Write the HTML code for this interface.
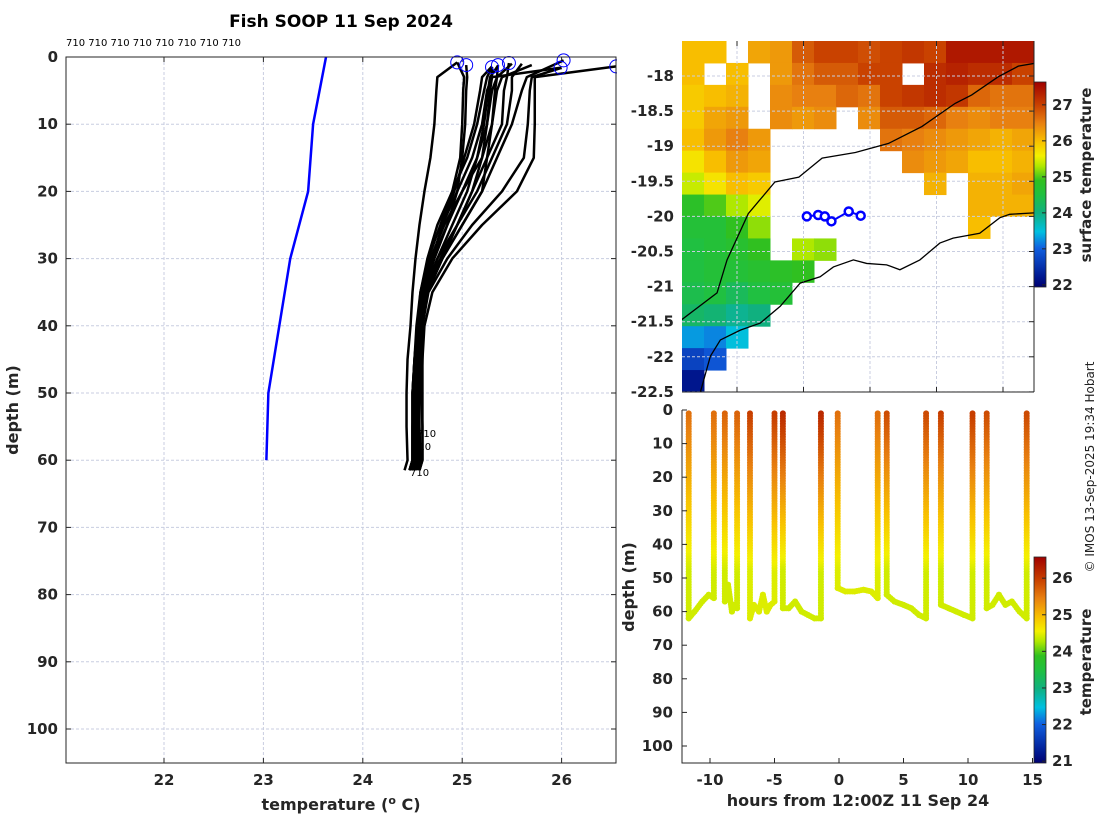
<!DOCTYPE html>
<html><head><meta charset="utf-8">
<style>
html,body{margin:0;padding:0;background:#fff;}
svg{display:block;font-family:"DejaVu Sans","Liberation Sans",sans-serif;}
.tk{font-weight:bold;font-size:15px;fill:#262626;}
.lb{font-weight:bold;font-size:16px;fill:#262626;}
</style></head>
<body>
<svg id="fig" width="1100" height="820" viewBox="0 0 1100 820" xmlns="http://www.w3.org/2000/svg">
<defs>
<clipPath id="clipL"><rect x="66" y="40" width="551" height="723"/></clipPath>
<clipPath id="clipM"><rect x="682" y="41" width="352" height="351"/></clipPath>
<clipPath id="clipB"><rect x="682" y="400" width="352" height="363"/></clipPath>
<clipPath id="clipLon"><rect x="682" y="392" width="360" height="18"/></clipPath>
<linearGradient id="cbar1" x1="0" y1="1" x2="0" y2="0"></linearGradient>
<linearGradient id="cbar2" x1="0" y1="1" x2="0" y2="0"></linearGradient>
</defs>
<text x="341" y="27" text-anchor="middle" style="font-weight:bold;font-size:17px;fill:#000">Fish SOOP 11 Sep 2024</text>
<text x="66" y="46" style="font-size:10px;fill:#000">710 710 710 710 710 710 710 710</text>
<g id="left"></g>
<g id="map"></g>
<g id="bot"></g>
<text transform="translate(1094,467) rotate(-90)" text-anchor="middle" style="font-size:12px;fill:#222">© IMOS 13-Sep-2025 19:34 Hobart</text>
</svg>
<script>
// ---------- DATA ----------
const profileDepths = [3,5,10,15,20,25,30,35,40,45,50,55,60];
const profileTemps = [
 [24.75,24.74,24.72,24.68,24.62,24.57,24.53,24.5,24.48,24.45,24.44,24.44,24.45],
 [25.73,25.73,25.73,25.72,25.55,25.2,24.9,24.7,24.62,24.6,24.6,24.6,24.6],
 [25.7,25.68,25.66,25.62,25.4,25.1,24.85,24.66,24.6,24.58,24.57,24.57,24.58],
 [25.45,25.42,25.4,25.25,25.1,24.95,24.8,24.65,24.58,24.55,24.55,24.55,24.56],
 [25.35,25.33,25.3,25.25,25.2,25.0,24.8,24.62,24.56,24.53,24.52,24.52,24.52],
 [25.3,25.28,25.25,25.15,25.0,24.85,24.7,24.6,24.55,24.52,24.5,24.5,24.5],
 [25.05,25.04,25.03,25.0,24.95,24.85,24.72,24.62,24.56,24.53,24.52,24.5,24.5],
 [25.02,25.01,25.0,24.98,24.9,24.78,24.66,24.58,24.54,24.52,24.5,24.5,24.5],
 [25.3,25.25,25.2,25.1,24.95,24.8,24.7,24.62,24.58,24.56,24.55,24.55,24.55],
 [25.5,25.5,25.45,25.3,25.15,24.95,24.75,24.63,24.57,24.55,24.54,24.54,24.54],
 [25.25,25.22,25.15,25.05,24.9,24.75,24.65,24.58,24.55,24.53,24.52,24.52,24.52],
 [25.35,25.3,25.25,25.2,25.1,24.95,24.78,24.6,24.55,24.52,24.5,24.5,24.5],
 [25.65,25.6,25.5,25.35,25.2,25.0,24.8,24.65,24.6,24.6,24.59,24.6,24.6],
 [25.28,25.26,25.22,25.15,25.05,24.9,24.75,24.62,24.56,24.54,24.53,24.52,24.53],
 [25.4,25.35,25.3,25.2,25.0,24.82,24.68,24.6,24.56,24.54,24.53,24.52,24.52],
 [25.2,25.18,25.12,25.02,24.92,24.8,24.7,24.63,24.58,24.55,24.54,24.53,24.54]
];
const startTemps = [24.95,26.55,26.0,25.47,25.36,25.3,25.04,24.95,25.99,25.6,25.3,25.5,26.02,25.36,25.7,25.3];
const startDepths = [0.8,1.4,1.6,0.9,1.2,1.5,1.2,0.8,1.6,1.0,1.5,1.0,0.5,1.3,1.2,1.4];
const circleTemps = [24.95,25.04,25.3,25.36,25.47,26.02,25.99,26.55];
const circleDepths = [0.8,1.2,1.5,1.2,0.9,0.5,1.6,1.4];
const climDepths = [0,10,20,30,50,60];
const climTemps = [23.63,23.5,23.45,23.27,23.05,23.03];
const tempTicks = [22,23,24,25,26];
const depthTicks = [0,10,20,30,40,50,60,70,80,90,100];

// SST grid (lat rows from north, lon cols from west), null = no data
const sstGrid = [
 [26,26,null,26.2,26.3,26.8,27,27,26.9,27,27.1,27,27.4,27.4,27.4,27.4],
 [26,null,26,null,26.3,26.6,26.8,26.8,27,27,null,27.2,27.3,27.2,27.2,27],
 [25.9,26,26.1,null,26.4,26.5,26.5,26.7,26.6,27,27.1,27.2,27.1,26.7,26.6,26.6],
 [25.9,26.2,26.3,null,26.4,26.3,26.4,null,26.4,26.8,26.8,26.7,26.5,26.4,26.5,26.5],
 [26,26.3,26.5,26.3,null,null,null,null,null,26.6,26.5,26.4,26.3,26.2,26.1,26.2],
 [25.7,26,26.3,26.2,null,null,null,null,null,null,26.4,26.3,26.2,26,26,26.1],
 [25.4,25.7,26,25.9,null,null,null,null,null,null,null,26.1,null,26.1,26.1,26.2],
 [24.8,25,25.3,25.5,null,null,null,null,null,null,null,null,null,26.1,26.1,26.1],
 [24.6,24.6,24.9,25.2,null,null,null,null,null,null,null,null,null,26,null,null],
 [24.5,24.6,24.7,24.9,null,25.3,25.2,null,null,null,null,null,null,null,null,null],
 [24.5,24.6,24.6,24.7,24.8,24.9,null,null,null,null,null,null,null,null,null,null],
 [24.4,24.5,24.3,24.5,24.6,null,null,null,null,null,null,null,null,null,null,null],
 [24.2,24.1,23.9,24.0,null,null,null,null,null,null,null,null,null,null,null,null],
 [23.3,23.2,23.5,null,null,null,null,null,null,null,null,null,null,null,null,null],
 [22.7,22.9,null,null,null,null,null,null,null,null,null,null,null,null,null,null],
 [22.2,null,null,null,null,null,null,null,null,null,null,null,null,null,null,null]
];
const latTicks = [-18,-18.5,-19,-19.5,-20,-20.5,-21,-21.5,-22,-22.5];
const lonTicks = [115,116,117,118,119];
const trackLons = [116.05,116.22,116.32,116.42,116.68,116.86];
const trackLats = [-20.0,-19.98,-20.0,-20.07,-19.93,-19.99];
const isoLons = [114.17,114.7,114.85,115.17,115.57,115.93,116.28,116.78,117.28,117.78,118.28,118.53,118.93,119.23,119.47];
const isoLats = [-21.47,-21.09,-20.62,-19.96,-19.51,-19.44,-19.17,-19.09,-18.96,-18.72,-18.39,-18.27,-18.01,-17.86,-17.82];
const coastLons = [114.45,114.6,114.75,115.05,115.35,115.65,115.95,116.25,116.45,116.75,116.95,117.25,117.45,117.75,118.05,118.25,118.65,118.95,119.1,119.47];
const coastLats = [-22.5,-21.99,-21.76,-21.62,-21.52,-21.28,-20.95,-20.86,-20.72,-20.62,-20.67,-20.69,-20.76,-20.62,-20.38,-20.31,-20.24,-20.02,-19.97,-19.95];

// depth-time casts
const castHours = [
 [-11.65,-11.2,-10.6,-10.1,-9.7],
 [-8.85,-8.6,-8.3,-8.1,-7.9],
 [-6.9,-6.6,-6.2,-5.9,-5.6,-5.3,-5.0],
 [-4.35,-3.9,-3.4,-2.9,-2.4,-1.9,-1.4],
 [-0.1,0.5,1.2,1.9,2.5,3.0],
 [3.7,4.3,5.0,5.6,6.2,6.75],
 [7.9,8.5,9.1,9.7,10.35],
 [11.45,11.9,12.4,12.9,13.4,14.0,14.55]
];
const castDepths = [
 [62,60,57,55,56],
 [57,52,60,58,59],
 [62,58,60,55,60,58,57],
 [59,59,57,60,61,62,62],
 [53,54,54,53.5,54,56],
 [55,57,58,59,61,62],
 [58,59,60,61,62],
 [59,58,55,58,57,60,62]
];
const castSurfTemps = [25.6,25.7,26.0,26.2,25.6,25.9,26.0,25.9];
const castBottomTemps = [24.4,24.4,24.45,24.4,24.45,24.4,24.4,24.4];
const hourTicks = [-10,-5,0,5,10,15];
const cb1Ticks = [22,23,24,25,26,27];
const cb2Ticks = [21,22,23,24,25,26];

// ---------- HELPERS ----------
const NS = 'http://www.w3.org/2000/svg';
function mk(parent, tag, attrs, text){
  const e = document.createElementNS(NS, tag);
  for (const k in attrs) e.setAttribute(k, attrs[k]);
  if (text !== undefined) e.textContent = text;
  parent.appendChild(e);
  return e;
}
const stops = [[0,'#000070'],[0.05,'#001890'],[0.19,'#1060e0'],[0.27,'#00c0e0'],[0.36,'#10b080'],[0.45,'#20c040'],[0.52,'#30c020'],[0.59,'#b0e800'],[0.64,'#f4f000'],[0.71,'#f8c000'],[0.8,'#e88010'],[0.89,'#c84000'],[1,'#a00000']];
function hx(c){return [parseInt(c.substr(1,2),16),parseInt(c.substr(3,2),16),parseInt(c.substr(5,2),16)];}
function cmap(f){
  f = Math.max(0, Math.min(1, f));
  for (let i=1;i<stops.length;i++){
    if (f <= stops[i][0]){
      const a=stops[i-1], b=stops[i], t=(f-a[0])/(b[0]-a[0]);
      const ca=hx(a[1]), cb=hx(b[1]);
      return 'rgb('+ca.map((v,j)=>Math.round(v+(cb[j]-v)*t)).join(',')+')';
    }
  }
  return stops[stops.length-1][1];
}
['cbar1','cbar2'].forEach(id=>{
  const g=document.getElementById(id);
  stops.forEach(s=>mk(g,'stop',{offset:s[0],'stop-color':s[1]}));
});

// ---------- LEFT PROFILE PLOT ----------
const L = document.getElementById('left');
const lx = t => 164 + (t-22)*99.4;
const ly = d => 57 + d*6.72;
mk(L,'rect',{x:66,y:57,width:550,height:706,fill:'#fff'});
tempTicks.forEach(t=>{
  const g = mk(L,'line',{x1:lx(t),x2:lx(t),y1:57,y2:763,stroke:'#c8cde0','stroke-dasharray':'3,2','stroke-width':1});
  
  
  mk(L,'line',{x1:lx(t),x2:lx(t),y1:57,y2:62,stroke:'#262626'});
  mk(L,'line',{x1:lx(t),x2:lx(t),y1:763,y2:758,stroke:'#262626'});
  const tl = mk(L,'text',{x:lx(t),y:785,'text-anchor':'middle',class:'tk'},String(t));
  
  
});
depthTicks.forEach(d=>{
  mk(L,'line',{x1:66,x2:616,y1:ly(d),y2:ly(d),stroke:'#c8cde0','stroke-dasharray':'3,2'});
  mk(L,'line',{x1:66,x2:71,y1:ly(d),y2:ly(d),stroke:'#262626'});
  mk(L,'line',{x1:616,x2:611,y1:ly(d),y2:ly(d),stroke:'#262626'});
  const tl = mk(L,'text',{x:58,y:ly(d)+5,'text-anchor':'end',class:'tk'},String(d));
  
  
});
const clim = mk(L,'polyline',{points:climDepths.map((d,i)=>lx(climTemps[i])+','+ly(d)).join(' '),fill:'none',stroke:'#0000ff','stroke-width':2.5});


const PG = mk(L,'g',{'clip-path':'url(#clipL)'});
profileTemps.forEach((arr,i)=>{
  const pts = [lx(startTemps[i])+','+ly(startDepths[i])];
  arr.forEach((t,j)=>pts.push(lx(t)+','+ly(profileDepths[j])));
  pts.push(lx(arr[arr.length-1]-0.03)+','+ly(61.5));
  const p = mk(PG,'polyline',{points:pts.join(' '),fill:'none',stroke:'#000','stroke-width':2.5,'stroke-linejoin':'round'});
  
  
});
circleTemps.forEach((t,i)=>{
  const c = mk(PG,'circle',{cx:lx(t),cy:ly(circleDepths[i]),r:6.5,fill:'none',stroke:'#0000ff','stroke-width':1});
  
  
});
[[417,437,'710'],[412,450,'710'],[410,476,'710']].forEach(a=>mk(L,'text',{x:a[0],y:a[1],style:'font-size:10px;fill:#000'},a[2]));
mk(L,'path',{d:'M66,57 H616 V763 H66 Z',fill:'none',stroke:'#262626','stroke-width':1});
const xl = mk(L,'text',{x:341,y:810,'text-anchor':'middle',class:'lb'});


xl.innerHTML = 'temperature (<tspan dy="-6" style="font-size:11px">o</tspan><tspan dy="6"> C)</tspan>';
const yl = mk(L,'text',{transform:'translate(18,410) rotate(-90)','text-anchor':'middle',class:'lb'},'depth (m)');



// ---------- MAP ----------
const M = document.getElementById('map');
const mxp = lon => 737 + (lon-115)*66.5;
const myp = lat => 76 + (-18-lat)*70.2;
const MG = mk(M,'g',{'clip-path':'url(#clipM)'});
const cw = 352/16, ch = 351/16;
sstGrid.forEach((row,r)=>row.forEach((v,c)=>{
  if (v===null) return;
  const cell = mk(MG,'rect',{x:682+c*cw,y:41+r*ch,width:cw+0.5,height:ch+0.5,fill:cmap((v-21.94)/5.7)});
  
  
}));
lonTicks.forEach(l=>{
  mk(MG,'line',{x1:mxp(l),x2:mxp(l),y1:41,y2:392,stroke:'#c8cde0','stroke-dasharray':'3,2'});
  mk(M,'line',{x1:mxp(l),x2:mxp(l),y1:41,y2:46,stroke:'#262626'});
  mk(M,'line',{x1:mxp(l),x2:mxp(l),y1:392,y2:387,stroke:'#262626'});
});
const LonG = mk(M,'g',{'clip-path':'url(#clipLon)'});
lonTicks.forEach(l=>{
  const t = mk(LonG,'text',{x:mxp(l),y:421,'text-anchor':'middle',class:'tk'},String(l));
  
  
});
latTicks.forEach(v=>{
  mk(MG,'line',{x1:682,x2:1034,y1:myp(v),y2:myp(v),stroke:'#c8cde0','stroke-dasharray':'3,2'});
  mk(M,'line',{x1:1034,x2:1029,y1:myp(v),y2:myp(v),stroke:'#262626'});
  const t = mk(M,'text',{x:674,y:myp(v)+5,'text-anchor':'end',class:'tk'},String(v));
  
  
});
const iso = mk(MG,'polyline',{points:isoLons.map((l,i)=>mxp(l)+','+myp(isoLats[i])).join(' '),fill:'none',stroke:'#000','stroke-width':1.3});


const coast = mk(MG,'polyline',{points:coastLons.map((l,i)=>mxp(l)+','+myp(coastLats[i])).join(' '),fill:'none',stroke:'#000','stroke-width':1.3});


mk(MG,'polyline',{points:trackLons.map((l,i)=>mxp(l)+','+myp(trackLats[i])).join(' '),fill:'none',stroke:'#0000ff','stroke-width':2});
trackLons.forEach((l,i)=>{
  const c = mk(MG,'circle',{cx:mxp(l),cy:myp(trackLats[i]),r:4,fill:'#fff',stroke:'#0000ff','stroke-width':2.5});
  
  
});
mk(M,'line',{x1:682,x2:1034,y1:392,y2:392,stroke:'#262626'});
mk(M,'line',{x1:1034,x2:1034,y1:41,y2:392,stroke:'#262626'});
const cb1 = mk(M,'rect',{x:1034,y:82,width:12,height:205,fill:'url(#cbar1)',stroke:'#262626','stroke-width':0.8});


cb1Ticks.forEach(v=>{
  const y = 287 - (v-21.94)*36;
  mk(M,'line',{x1:1042,x2:1046,y1:y,y2:y,stroke:'#262626'});
  mk(M,'text',{x:1052,y:y+5,class:'tk'},String(v));
});
const c1l = mk(M,'text',{transform:'translate(1091,175) rotate(-90)','text-anchor':'middle',class:'tk'},'surface temperature');



// ---------- BOTTOM DEPTH-TIME ----------
const B = document.getElementById('bot');
const bx = h => 839 + h*12.9;
const by = d => 410 + d*3.36;
mk(B,'rect',{x:682,y:410,width:352,height:353,fill:'#fff'});
const BG = mk(B,'g',{'clip-path':'url(#clipB)'});
castHours.forEach((hs,ci)=>{
  const pts=[[hs[0],1]];
  hs.forEach((h,j)=>pts.push([h,castDepths[ci][j]]));
  pts.push([hs[hs.length-1],1]);
  const sT=castSurfTemps[ci], bT=castBottomTemps[ci];
  for(let k=0;k<pts.length-1;k++){
    const x1=bx(pts[k][0]),y1=by(pts[k][1]),x2=bx(pts[k+1][0]),y2=by(pts[k+1][1]);
    const n=Math.max(1,Math.ceil(Math.hypot(x2-x1,y2-y1)/2.6));
    for(let s=0;s<=n;s++){
      const f=s/n, d=pts[k][1]+(pts[k+1][1]-pts[k][1])*f;
      const t = bT + (sT-bT)*Math.max(0,1-d/48);
      const dot = mk(BG,'circle',{cx:x1+(x2-x1)*f,cy:y1+(y2-y1)*f,r:3,fill:cmap((t-20.95)/5.62)});
      
      
    }
  }
});
hourTicks.forEach(h=>{
  mk(B,'line',{x1:bx(h),x2:bx(h),y1:763,y2:758,stroke:'#262626'});
  const t = mk(B,'text',{x:bx(h),y:785,'text-anchor':'middle',class:'tk'},String(h));
  
  
});
depthTicks.forEach(d=>{
  mk(B,'line',{x1:682,x2:687,y1:by(d),y2:by(d),stroke:'#262626'});
  const t = mk(B,'text',{x:673,y:by(d)+5,'text-anchor':'end',class:'tk'},String(d));
  
  
});
mk(B,'path',{d:'M682,410 V763 H1034',fill:'none',stroke:'#262626'});
const bxl = mk(B,'text',{x:858,y:806,'text-anchor':'middle',class:'lb'},'hours from 12:00Z 11 Sep 24');


const byl = mk(B,'text',{transform:'translate(634,587) rotate(-90)','text-anchor':'middle',class:'lb'},'depth (m)');


const cb2 = mk(B,'rect',{x:1034,y:557,width:12,height:206,fill:'url(#cbar2)',stroke:'#262626','stroke-width':0.8});


cb2Ticks.forEach(v=>{
  const y = 763 - (v-20.95)*36.6;
  mk(B,'line',{x1:1042,x2:1046,y1:y,y2:y,stroke:'#262626'});
  mk(B,'text',{x:1052,y:y+5,class:'tk'},String(v));
});
const c2l = mk(B,'text',{transform:'translate(1091,662) rotate(-90)','text-anchor':'middle',class:'tk'},'temperature');


</script>
</body></html>
